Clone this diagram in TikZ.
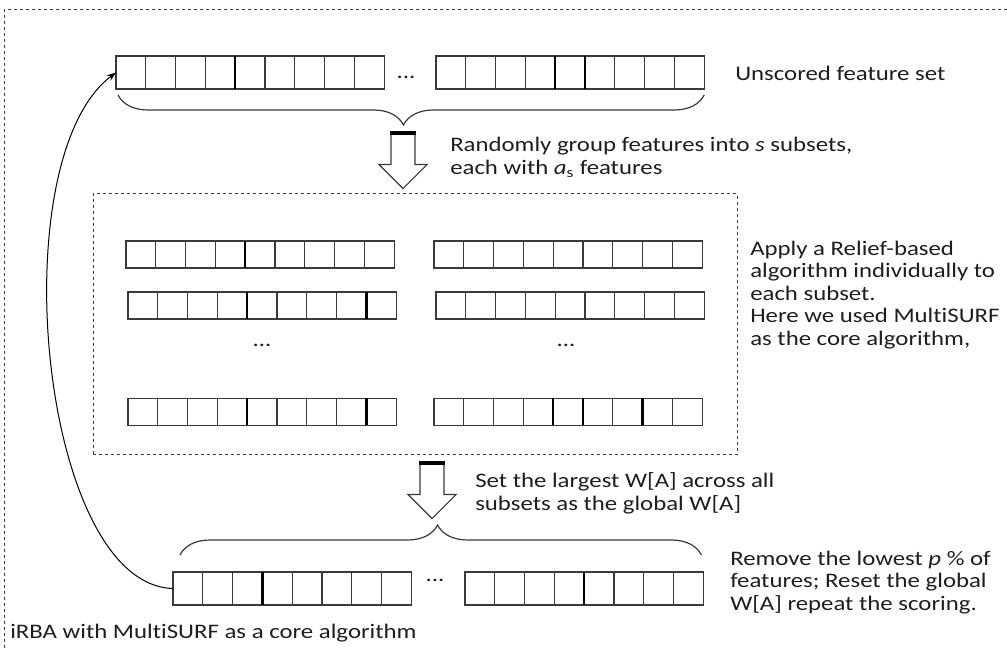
\documentclass[tikz,border=0pt]{standalone}
\usepackage{fontspec}
\setmainfont{Carlito}[FakeStretch=1.2, Ligatures=NoCommon]
\usetikzlibrary{positioning,arrows.meta,shapes.arrows,decorations.pathreplacing,calc}
\definecolor{ln}{HTML}{3A3A3A}
\definecolor{tx}{HTML}{1E1E1E}
\tikzset{
  cell/.style={rectangle, draw=ln, line width=0.9pt, inner sep=0pt, outer sep=0pt,
               minimum width=22.35pt, minimum height=#1},
  cell/.default=24.75pt,
  sep/.style={line width=1.9pt, draw=black},
  frame/.style={draw=ln, line width=0.75pt, dash pattern=on 2.6pt off 1.9pt},
  blk/.style={single arrow, draw=ln, line width=0.9pt, fill=white, shape border rotate=270,
              minimum height=41.25pt, single arrow head extend=9pt,
              inner sep=8.6pt, anchor=tail},
  capbar/.style={line width=2.4pt, draw=black},
  brc/.style={draw=ln, line width=0.9pt, decorate},
  txt/.style={anchor=west, align=left, text=tx, inner sep=0pt,
              font=\fontsize{15.5}{16.9}\selectfont},
  dots/.style={txt, anchor=center},
  loop/.style={-{Stealth[length=7pt, width=5pt]}, draw=black, line width=0.75pt}
}
% a row of feature cells: name, count, left x, centre y, cell height
\newcommand{\featrow}[5]{%
  \node[cell=#5, anchor=west] (#1-1) at (#3,#4) {};
  \foreach \j [remember=\j as \k (initially 1)] in {2,...,#2}
    \node[cell=#5, right=0pt of #1-\k] (#1-\j) {};
}

\begin{document}
\begin{tikzpicture}[x=0.75pt, y=-0.75pt]
\useasboundingbox (0,0) rectangle (1007,648);
\draw[frame] (4,660) -- (4,10) -- (1020,10);

% unscored set
\featrow{t1}{9}{116}{72.5}{24.75pt}
\featrow{t2}{9}{436}{72.5}{24.75pt}
\node[dots] (dt) at (406,77) {...};
\node[txt] (unsc) at (735,73) {Unscored feature set};
\draw[brc, decoration={brace, mirror, amplitude=22.5pt, aspect=0.487}]
  ($(t1-1.south west)+(2,6)$) -- ($(t2-9.south east)+(0,6)$);

\node[blk] (arr1) at (403,133) {};
\draw[capbar] (arr1.before tail) -- (arr1.after tail);
\node[txt] (grpt) at (450,157.5) {Randomly group features into \textit{s} subsets,\\each with \textit{a}\textsubscript{s} features};

% subsets
\node[frame, minimum width=483pt, minimum height=195.75pt] (grp) at (415,324.5) {};
\featrow{a1}{9}{126}{254.5}{20.25pt}
\featrow{b1}{9}{434}{254.5}{20.25pt}
\featrow{a2}{9}{128}{305.5}{20.25pt}
\featrow{b2}{9}{436}{305.5}{20.25pt}
\node[dots] (da) at (262,345) {...};
\node[dots] (db) at (566,345) {...};
\featrow{a4}{9}{128}{412}{20.25pt}
\featrow{b4}{9}{434}{412}{20.25pt}
\node[txt] (relf) at (750,295) {Apply a Relief-based\\algorithm individually to\\each subset.\\Here we used MultiSURF\\as the core algorithm,};

\node[blk] (arr2) at (432,463) {};
\draw[capbar] (arr2.before tail) -- (arr2.after tail);
\node[txt] (maxw) at (475,493.5) {Set the largest W[A] across all\\subsets as the global W[A]};

% reduced set
\featrow{c1}{8}{173}{588.5}{24.75pt}
\featrow{c2}{8}{465}{588.5}{24.75pt}
\node[dots] (dc) at (435,580) {...};
\draw[brc, decoration={brace, amplitude=22.5pt, aspect=0.494}]
  ($(c1-1.north west)+(7,-17)$) -- ($(c2-8.north east)+(-2,-17)$);
\node[txt] (remv) at (730,582.5) {Remove the lowest \textit{p} \% of\\features; Reset the global\\W[A] repeat the scoring.};

\foreach \n in {t1-4,t2-4,t2-5,a1-4,a2-4,a2-8,a4-4,a4-8,b4-4,b4-5,b4-7,c1-3,c2-4}
  \draw[sep] (\n.north east) -- (\n.south east);

\draw[loop] (c1-1.west) .. controls (40,585) and (0,160) .. (t1-1.west);

\node[txt] (capt) at (10,633) {iRBA with MultiSURF as a core algorithm};
\end{tikzpicture}
\end{document}
